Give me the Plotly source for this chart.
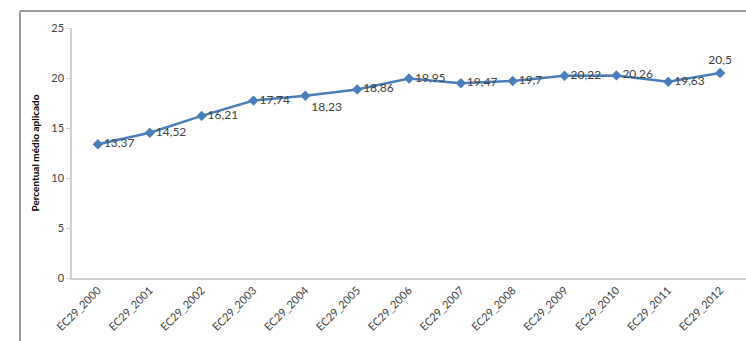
import plotly.graph_objects as go

# Average percentage applied per year (EC29)
categories = ["EC29_2000", "EC29_2001", "EC29_2002", "EC29_2003", "EC29_2004",
              "EC29_2005", "EC29_2006", "EC29_2007", "EC29_2008", "EC29_2009",
              "EC29_2010", "EC29_2011", "EC29_2012"]
values = [13.37, 14.52, 16.21, 17.74, 18.23, 18.86, 19.95, 19.47, 19.7, 20.22,
          20.26, 19.63, 20.5]
y_ticks = [0, 5, 10, 15, 20, 25]

# Data labels use a comma as decimal separator
labels = [f"{v:g}".replace(".", ",") for v in values]
label_positions = ["middle right", "middle right", "middle right", "middle right",
                   "bottom right", "middle right", "middle right", "middle right",
                   "middle right", "middle right", "middle right", "middle right",
                   "top center"]

font_family = "Lato, 'Open Sans', sans-serif"

fig = go.Figure()
fig.add_trace(go.Scatter(
    x=categories,
    y=values,
    mode="lines+markers+text",
    line=dict(color="#4A7EBB", width=2.5),
    marker=dict(symbol="diamond", size=8, color="#4A7EBB"),
    text=labels,
    textposition=label_positions,
    textfont=dict(family=font_family, size=12, color="#404040"),
    cliponaxis=False,
    hoverinfo="skip",
))

fig.update_layout(
    width=746,
    height=341,
    margin=dict(l=72, r=0, t=28, b=63),
    paper_bgcolor="white",
    plot_bgcolor="white",
    showlegend=False,
    font=dict(family=font_family, color="#404040"),
    xaxis=dict(
        type="category",
        range=[-0.5, 12.5],
        showgrid=False,
        showline=True,
        linecolor="#D0D0D0",
        linewidth=1.5,
        tickangle=-45,
        tickfont=dict(size=11, color="#404040"),
        ticks="",
        zeroline=False,
    ),
    yaxis=dict(
        range=[0, 25],
        tickvals=y_ticks,
        showgrid=False,
        showline=True,
        linecolor="#D0D0D0",
        linewidth=1.5,
        ticks="outside",
        ticklen=4,
        tickcolor="#D0D0D0",
        tickfont=dict(size=11, color="#404040"),
        zeroline=False,
        title=dict(text="<b>Percentual médio aplicado</b>",
                   font=dict(size=10, color="#000000"), standoff=10),
    ),
    shapes=[
        # outer chart frame (top and left edges)
        dict(type="line", xref="paper", yref="paper",
             x0=-0.0772, x1=1.05, y0=1.068, y1=1.068,
             line=dict(color="#9A9A9A", width=2)),
        dict(type="line", xref="paper", yref="paper",
             x0=-0.0772, x1=-0.0772, y0=1.068, y1=-0.5,
             line=dict(color="#9A9A9A", width=2)),
    ],
)

fig.write_html("out.html")
